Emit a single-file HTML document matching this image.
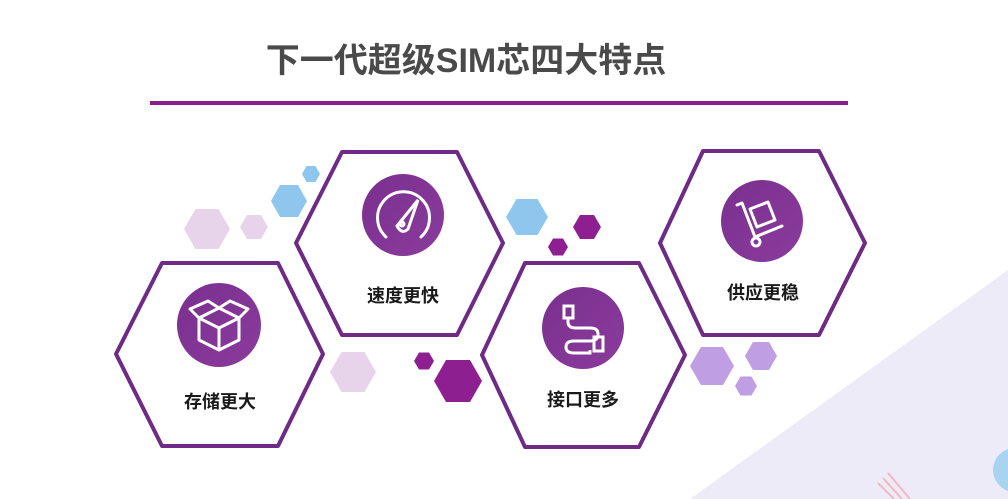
<!DOCTYPE html>
<html><head><meta charset="utf-8"><style>
html,body{margin:0;padding:0;background:#fff;}
svg{display:block;}
text{font-family:"Liberation Sans","Noto Sans CJK SC",sans-serif;}
</style></head><body>
<svg width="1008" height="499" viewBox="0 0 1008 499" xmlns="http://www.w3.org/2000/svg">
<defs>
<linearGradient id="g" x1="0" y1="0" x2="1" y2="1"><stop offset="0" stop-color="#7a2f8e"/><stop offset="1" stop-color="#8a3c9c"/></linearGradient>
</defs>
<polygon points="690,499 1008,270 1008,499" fill="#eeebf9"/>
<g stroke="#f4b8c0" stroke-width="2">
<line x1="888" y1="473" x2="910" y2="499"/><line x1="883" y1="478" x2="902" y2="499"/><line x1="878" y1="483" x2="894" y2="499"/>
</g>
<circle cx="1015" cy="470" r="22" fill="#a8d4f0"/>
<text x="466" y="72" text-anchor="middle" font-size="34" font-weight="bold" fill="#4a4a4a">下一代超级SIM芯四大特点</text>
<rect x="150" y="101" width="698" height="4" fill="#8a1e8c"/>

<g>
<polygon points="302,174 306.5,166 315.5,166 320,174 315.5,182 306.5,182" fill="#8ec6ee"/>
<polygon points="271,201 280,185 298,185 307,201 298,217 280,217" fill="#8ec6ee"/>
<polygon points="184,229 195.5,209 218.5,209 230,229 218.5,249 195.5,249" fill="#e8d4ea"/>
<polygon points="240,227 247,215 261,215 268,227 261,239 247,239" fill="#e8d4ea"/>
<polygon points="506,217 516.5,199 537.5,199 548,217 537.5,235 516.5,235" fill="#8ec6ee"/>
<polygon points="548,247 553,238.5 563,238.5 568,247 563,255.5 553,255.5" fill="#8e1f90"/>
<polygon points="573,227 580,215 594,215 601,227 594,239 580,239" fill="#8e1f90"/>
<polygon points="330,372 341.5,352 364.5,352 376,372 364.5,392 341.5,392" fill="#e8d4ea"/>
<polygon points="414,361 419,352.5 429,352.5 434,361 429,369.5 419,369.5" fill="#8e1f90"/>
<polygon points="434,381 446,360 470,360 482,381 470,402 446,402" fill="#8e1f90"/>
<polygon points="690,366 701,347 723,347 734,366 723,385 701,385" fill="#bf9ee3"/>
<polygon points="745,356 753,342 769,342 777,356 769,370 753,370" fill="#bf9ee3"/>
<polygon points="735,386 740.5,376.5 751.5,376.5 757,386 751.5,395.5 740.5,395.5" fill="#bf9ee3"/>
</g>

<g fill="#fff" stroke="#6e2a84" stroke-width="4" stroke-linejoin="round">
<polygon points="116,354 162,263 278,263 323,354 278,446 162,446"/>
<polygon points="296,243 342,152 457,152 503,243 457,335 342,335"/>
<polygon points="482,355 525,263 639,263 685,355 639,447 525,447"/>
<polygon points="660,243 703,151 819,151 865,243 819,335 703,335"/>
</g>

<g fill="url(#g)">
<circle cx="219" cy="325" r="42"/>
<circle cx="403" cy="215" r="41"/>
<circle cx="583" cy="328" r="41"/>
<circle cx="762" cy="221" r="41"/>
</g>

<g fill="none" stroke="#fff" stroke-width="3" stroke-linejoin="round">
<path d="M199,318 L219,308 L239,318 L239,340 L219,350 L199,340 Z"/>
<path d="M199,318 L219,328 L239,318 M219,328 L219,350"/>
<path d="M199,318 L190,309 L208,301 L219,308 L230,301 L248,309 L239,318"/>
</g>
<g fill="none" stroke="#fff" stroke-width="3" stroke-linecap="round">
<path d="M386,237 A26,26 0 1 1 421,237"/>
<path d="M397,226 L418,200 L408,229 Q402,235 397,226 Z"/>
<circle cx="402" cy="224" r="2"/>
</g>
<g fill="none" stroke="#fff" stroke-width="3">
<rect x="564" y="306" width="9" height="12"/>
<path d="M568,318 L568,322 Q568,328 576,328 L590,328 Q598,328 598,334 Q598,341 590,341 L574,341 Q566,341 566,347 Q566,353 574,353 L590,353 L590,350"/>
<rect x="594" y="337" width="9" height="14"/>
</g>
<g fill="none" stroke="#fff" stroke-width="3" stroke-linejoin="round" stroke-linecap="round">
<path d="M737,205 L742,203 L755,237 L782,226"/>
<polygon points="750,209 768,202 775,220 757,227"/>
<circle cx="756" cy="242" r="4"/>
</g>

<g font-size="18" font-weight="bold" fill="#1a1a1a" text-anchor="middle">
<text x="220" y="408">存储更大</text>
<text x="403" y="302">速度更快</text>
<text x="583" y="406">接口更多</text>
<text x="763" y="299">供应更稳</text>
</g>
</svg>
</body></html>
